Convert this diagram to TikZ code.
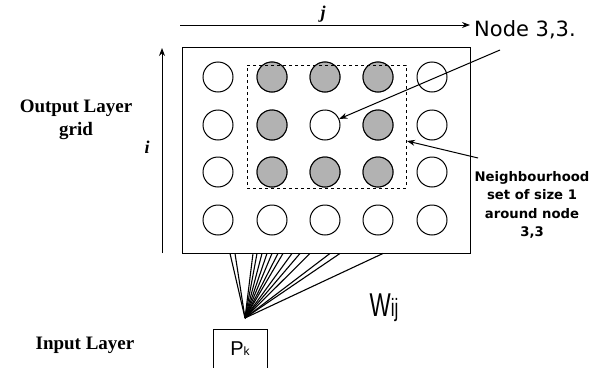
\documentclass[tikz,border=0pt]{standalone}
\usepackage{fontspec}
\setmainfont{Liberation Serif}
\newfontfamily\verdfont{DejaVu Sans}
\newfontfamily\arialfont{Liberation Sans}
\usepackage{tikz}
\usetikzlibrary{arrows.meta,positioning}
\tikzset{
    somcell/.style={draw, circle, minimum size=30pt, inner sep=0pt, line width=1pt, fill=white},
    somwin/.style={somcell, fill=gray!60},
    somarrow/.style={-{Stealth[length=8pt, width=6pt]}, line width=1pt},
    somlabel/.style={align=center, font=\fontsize{19}{23}\selectfont\bfseries},
    somnote/.style={align=center, font=\verdfont\fontsize{13.2}{18.5}\selectfont\bfseries},
    somfan/.style={line width=1.1pt}
}

\begin{document}
\begin{tikzpicture}[x=1pt, y=-1pt]
    \useasboundingbox (0,0) rectangle (597,367);
    \node[draw, line width=0.9pt, minimum width=288pt, minimum height=206pt, inner sep=0pt] (grid) at (326,150) {};
    % output neurons
    \foreach \r/\y in {1/77,2/125,3/172,4/220}{
        \foreach \c/\x in {1/218,2/272,3/325,4/378,5/432}{
            \node[somcell] (c-\r-\c) at (\x,\y) {};
        }
    }
    \foreach \r/\c in {1/2,1/3,1/4,2/2,2/4,3/2,3/3,3/4}
        \node[somwin] at (c-\r-\c) {};
    \node[draw, dashed, line width=0.9pt, minimum width=159pt, minimum height=123pt, inner sep=0pt] (hood) at (326.5,126.5) {};

    % axes
    \coordinate (jstart) at (180,25);
    \coordinate (jend) at (470,25);
    \coordinate (istart) at (162,253);
    \coordinate (iend) at (162,48);
    \draw[somarrow] (jstart) -- (jend);
    \draw[somarrow] (istart) -- (iend);
    \node[font=\fontsize{18}{18}\selectfont\bfseries\itshape] (jlbl) at (323,14) {j};
    \node[font=\fontsize{18}{18}\selectfont\bfseries\itshape] (ilbl) at (147,147) {i};

    % labels
    \node[font=\verdfont\fontsize{21}{25}\selectfont, anchor=west, inner sep=0pt] (nodelbl) at (474,30) {Node 3,3.};
    \node[somnote] (hoodlbl) at (532,205) {Neighbourhood\\set of size 1\\around node\\3,3};
    \node[somlabel] (outlbl) at (76,120) {Output Layer\\grid};
    \node[somlabel] (inlbl) at (85,345) {Input Layer};
    \coordinate (nstart) at (500,50);
    \coordinate (hstart) at (478,158);
    \coordinate (htip) at (407,141);
    \draw[somarrow] (nstart) -- (c-2-3);
    \draw[somarrow] (hstart) -- (htip);

    % input and weights
    \node[draw, line width=1pt, minimum width=54pt, minimum height=40pt, inner sep=0pt] (input) at (240,349) {\arialfont\fontsize{20}{20}\selectfont P{\fontsize{12}{12}\selectfont k}};
    \coordinate (apex) at (245,318);
    \foreach \x in {230,235,253,257,262,267,272,278,283,292,300,310,330,340,383}
        \draw[somfan] (apex) -- (\x,0 |- grid.south);
    \node[inner sep=0pt] (wlbl) at (384,308) {\scalebox{0.68}[1]{\arialfont\fontsize{33}{33}\selectfont W{\fontsize{25}{25}\selectfont ij}}};
\end{tikzpicture}
\end{document}
